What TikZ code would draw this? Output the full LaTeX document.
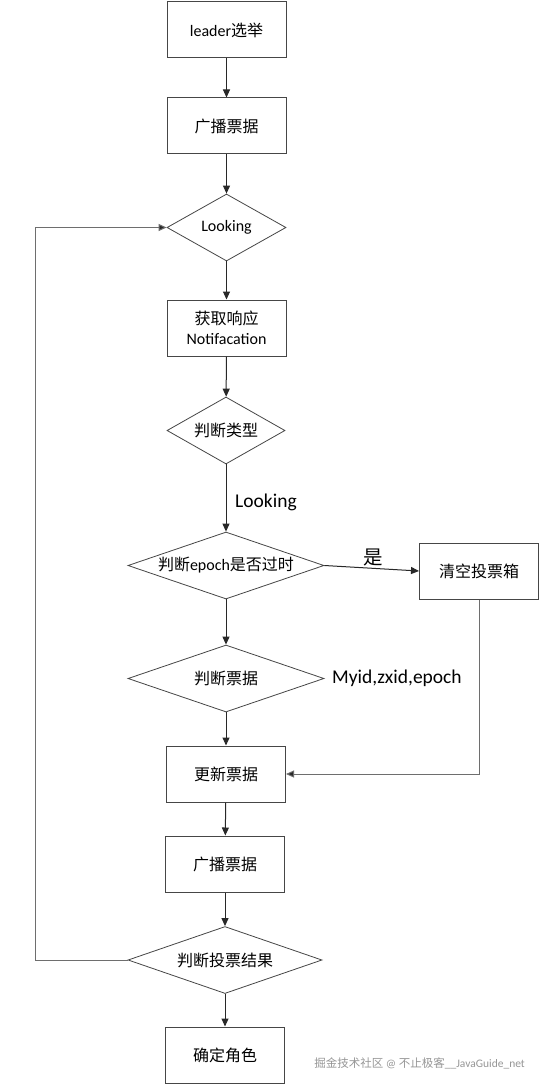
\documentclass[tikz,border=0pt]{standalone}
\usepackage{fontspec}
\setmainfont{Carlito}
\newfontfamily\cjk{Noto Sans CJK SC}
\usetikzlibrary{shapes.geometric,arrows.meta}
\definecolor{boxc}{RGB}{70,70,70}
\definecolor{linec}{RGB}{40,40,40}
\definecolor{sidec}{RGB}{110,110,110}
\definecolor{wmc}{RGB}{150,150,150}
\newcommand\myNodeFont{\fontsize{16}{20}\selectfont}
\newcommand\myLabFont{\fontsize{19.5}{23}\selectfont}
\newcommand\myWmFont{\fontsize{11.5}{14}\selectfont}
\begin{document}
\begin{tikzpicture}[x=1pt,y=-1pt,
  box/.style={draw=boxc, line width=1pt, minimum width=119pt, minimum height=56pt, inner sep=0pt, font=\myNodeFont, fill=white},
  dia/.style={draw=boxc, line width=0.8pt, diamond, minimum width=#1, minimum height=67pt, inner sep=0pt, aspect=2.9, font=\myNodeFont},
  arr/.style={draw=linec, line width=1pt, -{Triangle[length=8pt,width=7pt]}},
  sidearr/.style={draw=sidec, line width=1pt, -{Triangle[length=8pt,width=7pt,fill=linec]}},
  lbl/.style={font=\myLabFont, inner sep=0pt}]
\useasboundingbox (0,0) rectangle (541,1086);
\fill[white] (0,0) rectangle (541,1086);

\node[box] (b1) at (226.5,30) {leader{\cjk 选举}};
\node[box] (b2) at (226.5,126) {{\cjk 广播票据}};
\node[dia=119pt] (d1) at (226.5,227.5) {Looking};
\node[box,align=center] (b3) at (226.5,328) {{\cjk 获取响应}\\Notifacation};
\node[dia=118pt] (d2) at (226,430.5) {{\cjk 判断类型}};
\node[dia=196pt] (d3) at (226,565.5) {{\cjk 判断}epoch{\cjk 是否过时}};
\node[box] (b4) at (479,571) {{\cjk 清空投票箱}};
\node[dia=196pt] (d4) at (226,678.5) {{\cjk 判断票据}};
\node[box] (b5) at (226,774) {{\cjk 更新票据}};
\node[box] (b6) at (225,864) {{\cjk 广播票据}};
\node[dia=194pt] (d5) at (225,960) {{\cjk 判断投票结果}};
\node[box] (b7) at (225,1055) {{\cjk 确定角色}};

\node[lbl, anchor=west] (l1) at (235,502) {Looking};
\node[lbl] (l2) at (373,557) {{\cjk 是}};
\node[lbl, anchor=west] (l3) at (332,678) {Myid,zxid,epoch};
\node[font=\myWmFont, text=wmc, inner sep=0pt, anchor=east] (wm) at (525,1063) {{\cjk 掘金技术社区} @ {\cjk 不止极客}\_\_JavaGuide\_net};

\coordinate (lp) at (35,960);

\draw[arr] (b1) -- (b2);
\draw[arr] (b2) -- (d1);
\draw[arr] (d1) -- (b3);
\draw[arr] (b3) -- (d2);
\draw[arr] (d2) -- (d3);
\draw[arr] (d3.east) -- (b4.west);
\draw[arr] (d3) -- (d4);
\draw[arr] (d4) -- (b5);
\draw[sidearr] (b4.south) |- (b5.east);
\draw[arr] (b5) -- (b6);
\draw[arr] (b6) -- (d5);
\draw[arr] (d5) -- (b7);
\draw[sidearr] (d5.west) -- (lp) |- (d1.west);
\end{tikzpicture}
\end{document}
